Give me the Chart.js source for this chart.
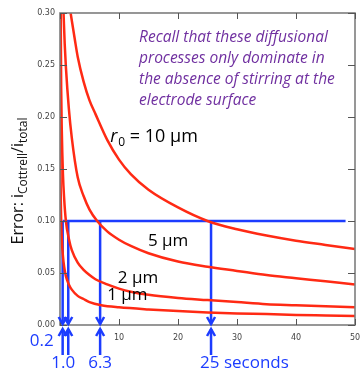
<!DOCTYPE html>
<html>
<head>
<meta charset="utf-8">
<script src="https://cdn.jsdelivr.net/npm/chart.js@4.4.1/dist/chart.umd.min.js"></script>
<style>
  html, body { margin: 0; padding: 0; background: #fff; }
</style>
</head>
<body>
<canvas id="chartcanvas" width="361" height="374"></canvas>
<script>
// values (time in s, error ratio)
const t10 = [1.8, 2.5, 3, 4, 5, 6, 8, 10, 12, 15, 20, 25, 30, 35, 40, 45, 50];
const err10 = [0.300, 0.275, 0.258, 0.234, 0.216, 0.203, 0.178, 0.159, 0.145, 0.130, 0.113, 0.100, 0.092, 0.086, 0.081, 0.077, 0.073];

const t5 = [0.6, 0.8, 1, 1.5, 2, 3, 4, 5, 6.3, 8, 10, 12, 15, 20, 25, 30, 35, 40, 45, 50];
const err5 = [0.300, 0.270, 0.248, 0.208, 0.180, 0.142, 0.124, 0.111, 0.100, 0.090, 0.082, 0.076, 0.069, 0.061, 0.056, 0.052, 0.048, 0.045, 0.042, 0.039];

const t2 = [0.12, 0.2, 0.3, 0.5, 0.7, 1, 1.5, 2, 3, 4, 5, 6, 8, 10, 12, 15, 20, 25, 30, 35, 40, 45, 50];
const err2 = [0.300, 0.228, 0.188, 0.145, 0.122, 0.100, 0.083, 0.072, 0.060, 0.053, 0.048, 0.044, 0.039, 0.035, 0.032, 0.029, 0.026, 0.024, 0.022, 0.020, 0.019, 0.018, 0.017];

const t1 = [0.02, 0.05, 0.1, 0.2, 0.3, 0.5, 0.7, 1, 1.5, 2, 3, 4, 5, 7, 10, 15, 20, 25, 30, 35, 40, 45, 50];
const err1 = [0.260, 0.190, 0.140, 0.100, 0.083, 0.066, 0.056, 0.047, 0.039, 0.034, 0.028, 0.025, 0.022, 0.019, 0.017, 0.015, 0.0135, 0.012, 0.011, 0.0105, 0.0097, 0.0092, 0.0087];

// blue read-off lines
const errorLevel = 0.10;
const levelEnd = 48.4;
const arrowTimes = [0.45, 1.4, 6.8, 25.6];
const arrowLabels = ["0.2", "1.0", "6.3", "25 seconds"];

const xTicks = [0, 10, 20, 30, 40, 50];
const yTicks = [0, 0.05, 0.10, 0.15, 0.20, 0.25, 0.30];

const noteLines = [
  "Recall that these diffusional",
  "processes only dominate in",
  "the absence of stirring at the",
  "electrode surface",
];

const RED = "#ff2a14";
const BLUE = "#1c3cff";

const toPoints = (xs, ys) => xs.map((x, i) => ({ x: x, y: ys[i] }));

const curve = (xs, ys) => ({
  data: toPoints(xs, ys),
  borderColor: RED,
  borderWidth: 2.5,
  pointRadius: 0,
  cubicInterpolationMode: "monotone",
  order: 0,
});

const blueLine = (pts) => ({
  data: pts,
  borderColor: BLUE,
  borderWidth: 2.5,
  pointRadius: 0,
  order: 1,
});

const datasets = [
  curve(t10, err10),
  curve(t5, err5),
  curve(t2, err2),
  curve(t1, err1),
  blueLine([{ x: arrowTimes[0], y: errorLevel }, { x: levelEnd, y: errorLevel }]),
];
arrowTimes.forEach((t) => {
  datasets.push(blueLine([{ x: t, y: errorLevel }, { x: t, y: 0 }]));
});

function chevron(ctx, x, y, dir) {
  ctx.beginPath();
  ctx.moveTo(x - 4, y - 7 * dir);
  ctx.lineTo(x, y);
  ctx.lineTo(x + 4, y - 7 * dir);
  ctx.stroke();
}

const decor = {
  id: "decor",
  afterDraw(chart) {
    const ctx = chart.ctx;
    const xs = chart.scales.x;
    const ys = chart.scales.y;
    const a = chart.chartArea;
    ctx.save();

    // frame and inward ticks
    ctx.strokeStyle = "#7d7d7d";
    ctx.lineWidth = 1.6;
    ctx.strokeRect(a.left, a.top, a.right - a.left, a.bottom - a.top);
    ctx.strokeStyle = "#555";
    ctx.lineWidth = 1;
    xTicks.forEach((v) => {
      const px = Math.round(xs.getPixelForValue(v)) + 0.5;
      ctx.beginPath();
      ctx.moveTo(px, a.bottom); ctx.lineTo(px, a.bottom - 6);
      ctx.moveTo(px, a.top); ctx.lineTo(px, a.top + 6);
      ctx.stroke();
    });
    yTicks.forEach((v) => {
      const py = Math.round(ys.getPixelForValue(v)) + 0.5;
      ctx.beginPath();
      ctx.moveTo(a.left, py); ctx.lineTo(a.left + 7, py);
      ctx.moveTo(a.right, py); ctx.lineTo(a.right - 7, py);
      ctx.stroke();
    });

    // arrows at the time axis
    ctx.strokeStyle = BLUE;
    ctx.fillStyle = BLUE;
    ctx.lineWidth = 2.5;
    arrowTimes.forEach((t) => {
      const px = xs.getPixelForValue(t);
      chevron(ctx, px, a.bottom - 1, 1);
      ctx.beginPath();
      ctx.moveTo(px, a.bottom + 4);
      ctx.lineTo(px, a.bottom + 30);
      ctx.stroke();
      chevron(ctx, px, a.bottom + 4, -1);
    });
    ctx.font = "17px 'Open Sans'";
    ctx.textBaseline = "middle";
    ctx.textAlign = "right";
    ctx.fillText(arrowLabels[0], xs.getPixelForValue(arrowTimes[0]) - 9, a.bottom + 16);
    ctx.textAlign = "center";
    ctx.fillText(arrowLabels[1], xs.getPixelForValue(arrowTimes[1]) - 5, a.bottom + 38);
    ctx.fillText(arrowLabels[2], xs.getPixelForValue(arrowTimes[2]), a.bottom + 38);
    ctx.textAlign = "left";
    ctx.fillText(arrowLabels[3], xs.getPixelForValue(arrowTimes[3]) - 11, a.bottom + 38);

    // purple note
    ctx.fillStyle = "#7030a0";
    ctx.font = "italic 15.5px 'Open Sans'";
    ctx.textAlign = "left";
    ctx.textBaseline = "alphabetic";
    noteLines.forEach((line, i) => {
      ctx.fillText(line, xs.getPixelForValue(13.4), ys.getPixelForValue(0.272) + i * 20.8);
    });

    // curve labels
    ctx.fillStyle = "#000";
    let x0 = xs.getPixelForValue(8.5);
    const yb = ys.getPixelForValue(0.176);
    ctx.font = "italic 18px 'Open Sans'";
    ctx.fillText("r", x0, yb);
    x0 += ctx.measureText("r").width + 1;
    ctx.font = "12px 'Open Sans'";
    ctx.fillText("0", x0, yb + 4);
    x0 += ctx.measureText("0").width;
    ctx.font = "18px 'Open Sans'";
    ctx.fillText(" = 10 \u00b5m", x0, yb);
    ctx.font = "17px 'Open Sans'";
    ctx.fillText("5 \u00b5m", xs.getPixelForValue(14.9), ys.getPixelForValue(0.076));
    ctx.fillText("2 \u00b5m", xs.getPixelForValue(9.8), ys.getPixelForValue(0.040));
    ctx.fillText("1 \u00b5m", xs.getPixelForValue(8.0), ys.getPixelForValue(0.024));

    // y axis title with subscripts
    const parts = [
      ["Error: i", 16, 0],
      ["Cottrell", 12, 4],
      ["/i", 16, 0],
      ["total", 12, 4],
    ];
    let total = 0;
    parts.forEach((p) => {
      ctx.font = p[1] + "px 'Open Sans'";
      total += ctx.measureText(p[0]).width;
    });
    ctx.translate(23, (a.top + a.bottom) / 2 + 12);
    ctx.rotate(-Math.PI / 2);
    let pos = -total / 2;
    ctx.fillStyle = "#111";
    parts.forEach((p) => {
      ctx.font = p[1] + "px 'Open Sans'";
      ctx.fillText(p[0], pos, p[2]);
      pos += ctx.measureText(p[0]).width;
    });
    ctx.restore();
  },
};

const config = {
  type: "scatter",
  data: { datasets: datasets },
  options: {
    responsive: false,
    animation: false,
    showLine: true,
    layout: { autoPadding: false, padding: { top: 13, right: 6, left: 0, bottom: 0 } },
    plugins: {
      legend: { display: false },
      tooltip: { enabled: false },
    },
    scales: {
      x: {
        type: "linear",
        min: 0,
        max: 50,
        afterFit: (s) => {
          s.height = 49;
          s.paddingLeft = 0;
          s.paddingRight = 0;
        },
        afterBuildTicks: (s) => { s.ticks = xTicks.map((v) => ({ value: v })); },
        grid: { display: false, drawTicks: false },
        border: { display: false },
        ticks: {
          padding: 8,
          color: "#444",
          font: { family: "DejaVu Sans", size: 8 },
          callback: (v) => (v === 0 ? "" : v),
        },
      },
      y: {
        type: "linear",
        min: 0,
        max: 0.3,
        afterFit: (s) => {
          s.width = 60;
          s.paddingTop = 0;
          s.paddingBottom = 0;
        },
        afterBuildTicks: (s) => { s.ticks = yTicks.map((v) => ({ value: v })); },
        grid: { display: false, drawTicks: false },
        border: { display: false },
        ticks: {
          padding: 5,
          color: "#444",
          font: { family: "DejaVu Sans", size: 8 },
          callback: (v) => v.toFixed(2),
        },
      },
    },
  },
  plugins: [decor],
};

const chart = new Chart(document.getElementById("chartcanvas"), config);
</script>
</body>
</html>
